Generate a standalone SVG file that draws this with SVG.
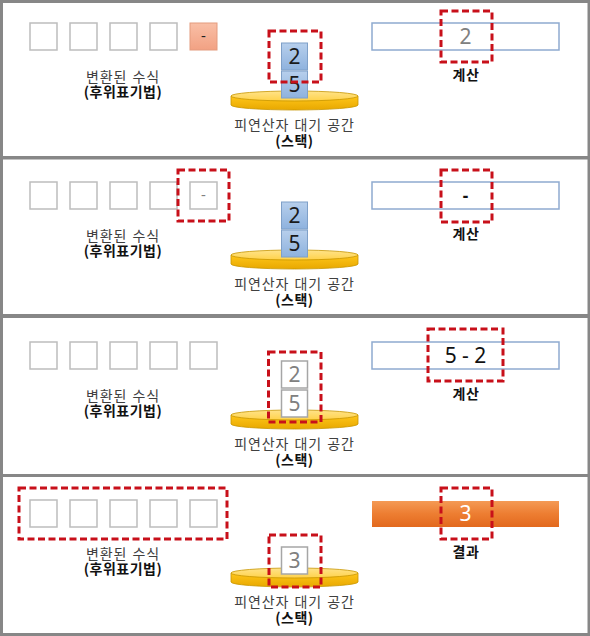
<svg xmlns="http://www.w3.org/2000/svg" width="590" height="636" viewBox="0 0 590 636">
<defs>
<linearGradient id="gBlue" x1="0" y1="0" x2="0" y2="1"><stop offset="0" stop-color="#B7CFEC"/><stop offset="1" stop-color="#8EB2DE"/></linearGradient>
<linearGradient id="gSalmon" x1="0" y1="0" x2="0" y2="1"><stop offset="0" stop-color="#F9BFA6"/><stop offset="1" stop-color="#F2A183"/></linearGradient>
<linearGradient id="gOrange" x1="0" y1="0" x2="0" y2="1"><stop offset="0" stop-color="#F49A55"/><stop offset="0.5" stop-color="#ED7D31"/><stop offset="1" stop-color="#E2691E"/></linearGradient>
<linearGradient id="gTop" x1="0" y1="0" x2="0" y2="1"><stop offset="0" stop-color="#FFE38A"/><stop offset="1" stop-color="#FFD24A"/></linearGradient>
<linearGradient id="gSide" x1="0" y1="0" x2="0" y2="1"><stop offset="0" stop-color="#FFC61A"/><stop offset="1" stop-color="#E8A800"/></linearGradient>
<g id="disk">
<path d="M231,96 L231,105 A63.5,5 0 0 0 358,105 L358,96 Z" fill="url(#gSide)" stroke="#C89600" stroke-width="0.8"/>
<ellipse cx="294.5" cy="96" rx="63.5" ry="5" fill="url(#gTop)" stroke="#C89600" stroke-width="0.8"/>
</g>
<g id="sq5">
<rect x="30" y="23" width="27" height="27" class="sq"/>
<rect x="70" y="23" width="27" height="27" class="sq"/>
<rect x="110" y="23" width="27" height="27" class="sq"/>
<rect x="150" y="23" width="27" height="27" class="sq"/>
</g>
<g id="labels">
<text x="123" y="82" class="lbl">변환된 수식</text>
<text x="123" y="97" class="lblb">(후위표기법)</text>
<text x="294.5" y="130" class="lbl">피연산자 대기 공간</text>
<text x="294.5" y="146" class="lblb">(스택)</text>
</g>
</defs>
<style>
.sq{fill:#fff;stroke:#BDBDBD;stroke-width:1.5}
.lbl{font-family:"Noto Sans CJK KR",sans-serif;font-size:14px;fill:#404040;text-anchor:middle;letter-spacing:0.8px;word-spacing:1.5px}
.lblb{font-family:"Noto Sans CJK KR",sans-serif;font-size:14px;font-weight:bold;fill:#111;text-anchor:middle;letter-spacing:0.5px}
.calc{fill:#fff;stroke:#8FAAD0;stroke-width:1.5}
.red{fill:none;stroke:#C8101A;stroke-width:3;stroke-dasharray:7 3.5}
.num{font-family:"Noto Sans","Liberation Sans",sans-serif;font-size:21px;text-anchor:middle}
.bbox{fill:url(#gBlue);stroke:#7FA0C8;stroke-width:1}
.wbox{fill:#fff;stroke:#A6A6A6;stroke-width:1.5}
</style>
<rect x="0" y="0" width="590" height="636" fill="#878787"/>
<rect x="3" y="3" width="584.5" height="153" fill="#fff"/>
<rect x="3" y="159.5" width="584.5" height="154.5" fill="#fff"/>
<rect x="3" y="318" width="584.5" height="156" fill="#fff"/>
<rect x="3" y="477" width="584.5" height="156" fill="#fff"/>

<g id="panel1">
<g id="p1-postfix">
<use href="#sq5"/>
<rect x="190" y="23" width="27" height="27" fill="url(#gSalmon)" stroke="#E49B7E" stroke-width="1"/>
<text x="203.5" y="41" class="num" style="font-size:15px;fill:#222">-</text>
</g>
<g id="p1-stack">
<use href="#disk"/>
<rect x="281.5" y="43" width="26" height="27" class="bbox"/>
<text x="294.5" y="64" class="num" style="fill:#1a1a1a">2</text>
<rect x="281.5" y="71" width="26" height="27" class="bbox"/>
<text x="294.5" y="92" class="num" style="fill:#1a1a1a">5</text>
<rect x="269" y="31" width="52" height="51" class="red"/>
</g>
<g id="p1-calc">
<rect x="372" y="23" width="187" height="27" class="calc"/>
<text x="465.5" y="44" class="num" style="fill:#808080">2</text>
<rect x="441" y="11" width="51" height="51" class="red"/>
<text x="466" y="80" class="lblb">계산</text>
</g>
<use href="#labels"/>
</g>

<g id="panel2" transform="translate(0,159)">
<g id="p2-postfix">
<use href="#sq5"/>
<rect x="190" y="23" width="27" height="27" class="sq"/>
<text x="203.5" y="41" class="num" style="font-size:15px;fill:#808080">-</text>
<rect x="178" y="11" width="51" height="51" class="red"/>
</g>
<g id="p2-stack">
<use href="#disk"/>
<rect x="281.5" y="43" width="26" height="27" class="bbox"/>
<text x="294.5" y="64" class="num" style="fill:#1a1a1a">2</text>
<rect x="281.5" y="71" width="26" height="27" class="bbox"/>
<text x="294.5" y="92" class="num" style="fill:#1a1a1a">5</text>
</g>
<g id="p2-calc">
<rect x="372" y="23" width="187" height="27" class="calc"/>
<text x="465.5" y="43" class="num" style="font-size:17px;font-weight:bold;fill:#111">-</text>
<rect x="441" y="11" width="51" height="52" class="red"/>
<text x="466" y="80" class="lblb">계산</text>
</g>
<use href="#labels"/>
</g>

<g id="panel3" transform="translate(0,319)">
<g id="p3-postfix">
<use href="#sq5"/>
<rect x="190" y="23" width="27" height="27" class="sq"/>
</g>
<g id="p3-stack">
<use href="#disk"/>
<rect x="281.5" y="42" width="26" height="27" class="wbox"/>
<text x="294.5" y="63" class="num" style="fill:#808080">2</text>
<rect x="281.5" y="71" width="26" height="27" class="wbox"/>
<text x="294.5" y="92" class="num" style="fill:#808080">5</text>
<rect x="268.5" y="33" width="52.5" height="70" class="red"/>
</g>
<g id="p3-calc">
<rect x="372" y="23" width="187" height="27" class="calc"/>
<text x="465.5" y="44" class="num" style="fill:#111">5 - 2</text>
<rect x="428" y="10" width="75" height="52" class="red"/>
<text x="466" y="80" class="lblb">계산</text>
</g>
<use href="#labels"/>
</g>

<g id="panel4" transform="translate(0,477)">
<g id="p4-postfix">
<use href="#sq5"/>
<rect x="190" y="23" width="27" height="27" class="sq"/>
<rect x="19" y="11" width="208" height="51" class="red"/>
</g>
<g id="p4-stack">
<use href="#disk"/>
<rect x="281.5" y="70" width="26" height="27" class="wbox"/>
<text x="294.5" y="91" class="num" style="fill:#808080">3</text>
<rect x="269" y="58" width="52" height="52" class="red"/>
</g>
<g id="p4-result">
<rect x="372" y="24" width="187" height="26" fill="url(#gOrange)"/>
<text x="465.5" y="44" class="num" style="fill:#fff">3</text>
<rect x="441" y="11" width="51" height="51" class="red"/>
<text x="466" y="80" class="lblb">결과</text>
</g>
<use href="#labels"/>
</g>
<g id="connectors"/>
</svg>
